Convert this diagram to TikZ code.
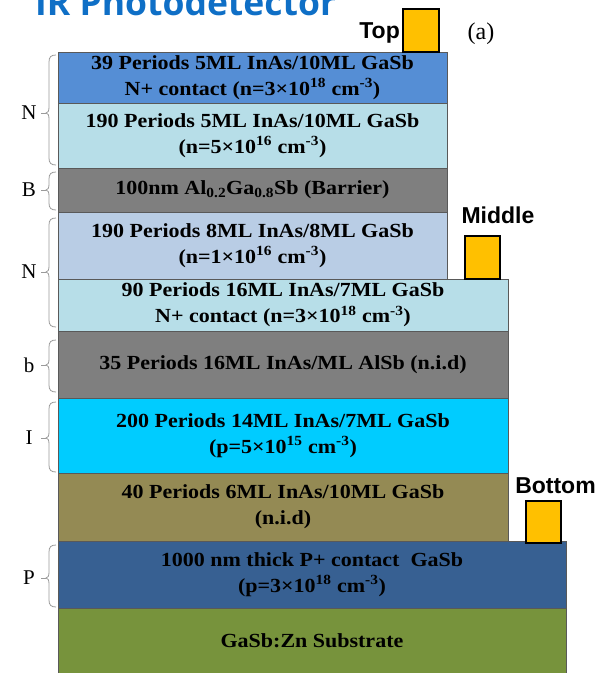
\documentclass[tikz,border=0pt]{standalone}
\usepackage{fontspec}
\setmainfont{Liberation Serif}
\newfontfamily\layerfont{Liberation Serif}[FakeStretch=1.1]
\newfontfamily\labsans{Liberation Sans}
\newfontfamily\titlefont{Open Sans}
\definecolor{cblue}{HTML}{558ED5}
\definecolor{clcyan}{HTML}{B7DEE8}
\definecolor{cgray}{HTML}{7F7F7F}
\definecolor{csteel}{HTML}{B9CDE5}
\definecolor{ccyan}{HTML}{00CCFF}
\definecolor{colive}{HTML}{948A54}
\definecolor{cdblue}{HTML}{376092}
\definecolor{cgreen}{HTML}{77933C}
\definecolor{cgold}{HTML}{FFC000}
\definecolor{ctitle}{HTML}{0F6FC6}
\definecolor{cbrace}{HTML}{9A9A9A}
\newcommand\layerbrace[5]{%
  \draw[bracestyle] (56,#1) .. controls (51,#1) and (49,{#1+2}) .. (49,{#1+7})
    -- (49,{#3-6}) .. controls (49,{#3-2}) and (48,#3) .. (46,#3)
    .. controls (48,#3) and (49,{#3+2}) .. (49,{#3+6})
    -- (49,{#2-7}) .. controls (49,{#2-2}) and (51,#2) .. (56,#2);
  \draw[bracestyle] (46,#3) -- (41,#3);
  \node[sidelabel] (#4) at (29,#3) {#5};
}
\tikzset{
  layer/.style={draw=black!65, line width=0.6pt, inner sep=0pt, align=center,
    font=\layerfont\bfseries\fontsize{20}{26}\selectfont},
  bracestyle/.style={draw=cbrace, line width=0.8pt},
  sidelabel/.style={inner sep=0pt, font=\fontsize{21}{24}\selectfont},
  contact/.style={draw=black, line width=1.8pt, fill=cgold, inner sep=0pt},
  sanslab/.style={inner sep=0pt, font=\labsans\bfseries\fontsize{23}{26}\selectfont}
}
\begin{document}
\begin{tikzpicture}[x=1pt,y=-1pt]
\useasboundingbox (0,0) rectangle (601,673);
% title
\node[inner sep=0pt, anchor=base west, text=ctitle, font=\titlefont\bfseries\fontsize{35.5}{38}\selectfont] (title) at (35,15) {IR Photodetector};
% layers
\node[layer, fill=cblue, minimum width=389pt, minimum height=51pt] (L1) at (252.5,77.5)
  {39 Periods 5ML InAs/10ML GaSb\\N+ contact (n=3×10\textsuperscript{18} cm\textsuperscript{-3})};
\node[layer, fill=clcyan, minimum width=389pt, minimum height=65pt] (L2) at (252.5,135.5)
  {190 Periods 5ML InAs/10ML GaSb\\(n=5×10\textsuperscript{16} cm\textsuperscript{-3})};
\node[layer, fill=cgray, minimum width=389pt, minimum height=44pt] (L3) at (252.5,190)
  {100nm Al\textsubscript{0.2}Ga\textsubscript{0.8}Sb (Barrier)};
\node[layer, fill=csteel, minimum width=389pt, minimum height=67pt] (L4) at (252.5,245.5)
  {190 Periods 8ML InAs/8ML GaSb\\(n=1×10\textsuperscript{16} cm\textsuperscript{-3})};
\node[layer, fill=clcyan, minimum width=450pt, minimum height=52pt] (L5) at (283,305)
  {90 Periods 16ML InAs/7ML GaSb\\N+ contact (n=3×10\textsuperscript{18} cm\textsuperscript{-3})};
\node[layer, fill=cgray, minimum width=450pt, minimum height=67pt] (L6) at (283,364.5)
  {35 Periods 16ML InAs/ML AlSb (n.i.d)};
\node[layer, fill=ccyan, minimum width=450pt, minimum height=75pt] (L7) at (283,435.5)
  {200 Periods 14ML InAs/7ML GaSb\\(p=5×10\textsuperscript{15} cm\textsuperscript{-3})};
\node[layer, fill=colive, minimum width=450pt, minimum height=68pt] (L8) at (283,507)
  {40 Periods 6ML InAs/10ML GaSb\\(n.i.d)};
\node[layer, fill=cdblue, minimum width=508pt, minimum height=67pt] (L9) at (312,574.5)
  {1000 nm thick P+ contact\ \ GaSb\\(p=3×10\textsuperscript{18} cm\textsuperscript{-3})};
\node[layer, fill=cgreen, minimum width=508pt, minimum height=66pt] (L10) at (312,641)
  {GaSb:Zn Substrate};
% braces
\layerbrace{55}{165}{113}{bN1}{N}
\layerbrace{172}{210}{190}{bB}{B}
\layerbrace{218}{327}{272}{bN2}{N}
\layerbrace{340}{392}{365}{bb}{b}
\layerbrace{402}{472}{438}{bI}{I}
\layerbrace{545}{607}{578}{bP}{P}
% contacts
\node[contact, minimum width=36pt, minimum height=43pt] (ctop) at (421,30.5) {};
\node[contact, minimum width=35pt, minimum height=43pt] (cmid) at (482.5,257.5) {};
\node[contact, minimum width=35pt, minimum height=42pt] (cbot) at (543.5,522) {};
\node[sanslab, anchor=base east] (ttop) at (400,38) {Top};
\node[sanslab, anchor=base] (tmid) at (498,223) {Middle};
\node[sanslab, anchor=base] (tbot) at (555.5,493) {Bottom};
\node[inner sep=0pt, anchor=base, font=\fontsize{24}{26}\selectfont] (tag) at (481,39) {(a)};
\end{tikzpicture}
\end{document}
